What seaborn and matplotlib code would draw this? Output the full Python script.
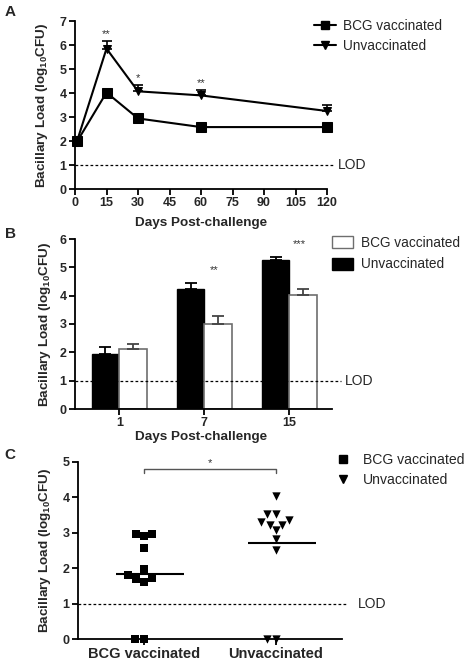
import numpy as np
import pandas as pd
import matplotlib
matplotlib.use("Agg")
import matplotlib.pyplot as plt
import matplotlib.transforms as mtransforms
from matplotlib.lines import Line2D
from matplotlib.patches import Patch
import seaborn as sns

# ---------------- data ----------------
# Panel A
days_a = [1, 15, 30, 60, 120]
bcg_a = [1.98, 4.02, 2.94, 2.58, 2.58]
bcg_a_err = [0.06, 0.10, 0.10, 0.07, 0.12]
unvac_a = [2.00, 5.85, 4.07, 3.90, 3.25]
unvac_a_err = [0.06, 0.30, 0.25, 0.22, 0.23]
stars_a = ["", "**", "*", "**", ""]

# Panel B
days_b = ["1", "7", "15"]
unvac_b = [1.95, 4.25, 5.25]
unvac_b_err = [0.25, 0.18, 0.10]
bcg_b = [2.12, 3.00, 4.02]
bcg_b_err = [0.18, 0.28, 0.23]
stars_b = ["", "**", "***"]

# Panel C
groups_c = ["BCG vaccinated", "Unvaccinated"]
bcg_c = [2.96, 2.90, 2.96, 2.57, 1.99, 1.80, 1.69, 1.60, 1.71, 0.0, 0.0]
unvac_c = [4.03, 3.53, 3.53, 3.37, 3.23, 3.07, 3.23, 3.30, 2.83, 2.52, 0.0, 0.0]

LOD = 1.0
ylabel = r"Bacillary Load (log$_{\mathbf{10}}$CFU)"
xlabel = "Days Post-challenge"

# ---------------- style ----------------
sns.set_style("ticks")
plt.rcParams["font.family"] = ["Liberation Sans", "DejaVu Sans"]
plt.rcParams["mathtext.fontset"] = "custom"
plt.rcParams["mathtext.rm"] = "Liberation Sans"
plt.rcParams["mathtext.bf"] = "Liberation Sans:bold"
plt.rcParams["axes.linewidth"] = 1.3

W, H = 471, 665
fig = plt.figure(figsize=(W / 100, H / 100), dpi=100)


def px_axes(left, right, top, bottom):
    return fig.add_axes([left / W, 1 - bottom / H, (right - left) / W, (bottom - top) / H])


axA = px_axes(75, 327, 21, 189)
axB = px_axes(75, 332, 239, 409)
axC = px_axes(78, 342, 462, 639)

TICK_FS = 9
LABEL_FS = 9.7
LEG_FS = 9.8


def style_axis(ax, ylab_x):
    sns.despine(ax=ax)
    ax.tick_params(axis="both", length=4, width=1.3, labelsize=TICK_FS, pad=2, color="black")
    for lab in ax.get_xticklabels() + ax.get_yticklabels():
        lab.set_fontweight("bold")
    ax.set_ylabel(ylabel, fontsize=LABEL_FS, fontweight="bold")
    ax.yaxis.set_label_coords(ylab_x, 0.5)
    ax.spines["left"].set_color("black")
    ax.spines["bottom"].set_color("black")


def lod(ax, xend, xtext, fs=10):
    ax.axhline(LOD, xmin=0, xmax=xend, ls=(0, (2.2, 1.8)), lw=0.9, color="black",
               clip_on=False, zorder=5)
    tr = mtransforms.blended_transform_factory(ax.transAxes, ax.transData)
    ax.text(xtext, LOD, "LOD", transform=tr, ha="left", va="center", fontsize=fs)


# ---------------- Panel A ----------------
dfA = pd.DataFrame({
    "day": days_a * 2,
    "load": bcg_a + unvac_a,
    "group": ["BCG vaccinated"] * len(days_a) + ["Unvaccinated"] * len(days_a),
})
sns.lineplot(data=dfA, x="day", y="load", hue="group", style="group",
             markers={"BCG vaccinated": "s", "Unvaccinated": "v"}, dashes=False,
             palette={"BCG vaccinated": "black", "Unvaccinated": "black"},
             markersize=6.5, linewidth=1.5, markeredgecolor="black",
             legend=False, ax=axA, zorder=4)
for ln in axA.lines:
    ln.set_clip_on(False)
    if ln.get_marker() == "v":
        ln.set_markersize(6)
axA.errorbar(days_a, unvac_a, yerr=[np.zeros(len(unvac_a)), unvac_a_err], fmt="none",
             ecolor="black", elinewidth=1.2, capsize=3.5, capthick=1.2, clip_on=False)
axA.errorbar(days_a, bcg_a, yerr=[np.zeros(len(bcg_a)), bcg_a_err], fmt="none",
             ecolor="black", elinewidth=1.2, capsize=3.5, capthick=1.2, clip_on=False)
for d, v, e, s in zip(days_a, unvac_a, unvac_a_err, stars_a):
    if s:
        axA.text(d, v + e + 0.08, s, ha="center", va="bottom", fontsize=8, color="#333333")
axA.set_xlim(0, 120)
axA.set_ylim(0, 7)
axA.set_xticks(range(0, 121, 15))
axA.set_yticks(range(0, 8))
axA.set_xlabel(xlabel, fontsize=LABEL_FS, fontweight="bold")
axA.xaxis.set_label_coords(0.5, -0.168)
style_axis(axA, -0.099)
lod(axA, 1.025, 1.045)
legA = [
    Line2D([], [], color="black", marker="s", markersize=6, lw=1.5),
    Line2D([], [], color="black", marker="v", markersize=5.5, lw=1.5),
]
fig.legend(legA, ["BCG vaccinated", "Unvaccinated"], loc="upper left",
           bbox_to_anchor=(314 / W, 1 - 19 / H), frameon=False, fontsize=LEG_FS,
           handlelength=1.6, handletextpad=0.5, labelspacing=0.45, borderpad=0,
           borderaxespad=0)

# ---------------- Panel B ----------------
dfB = pd.DataFrame({
    "day": days_b * 2,
    "load": unvac_b + bcg_b,
    "group": ["Unvaccinated"] * len(days_b) + ["BCG vaccinated"] * len(days_b),
})
sns.barplot(data=dfB, x="day", y="load", hue="group", order=days_b,
            hue_order=["Unvaccinated", "BCG vaccinated"],
            palette={"Unvaccinated": "black", "BCG vaccinated": "white"},
            width=0.65, errorbar=None, legend=False, ax=axB, zorder=2)
unv_bars, bcg_bars = axB.containers[0], axB.containers[1]
for b in unv_bars:
    b.set_edgecolor("black")
    b.set_linewidth(1.0)
for b in bcg_bars:
    b.set_edgecolor("#6e6e6e")
    b.set_linewidth(1.2)
for bars, errs, col in [(unv_bars, unvac_b_err, "black"), (bcg_bars, bcg_b_err, "#444444")]:
    for b, e in zip(bars, errs):
        xc = b.get_x() + b.get_width() / 2
        axB.errorbar([xc], [b.get_height()], yerr=[[0], [e]], fmt="none", ecolor=col,
                     elinewidth=1.3, capsize=4.5, capthick=1.3, zorder=3)
for i, s in enumerate(stars_b):
    if s:
        top = max(unv_bars[i].get_height() + unvac_b_err[i], bcg_bars[i].get_height() + bcg_b_err[i])
        xc = bcg_bars[i].get_x() + bcg_bars[i].get_width() / 2
        axB.text(xc - 0.05, top + 0.3, s, ha="center", va="bottom", fontsize=8, color="#333333")
axB.set_xlim(-0.52, 2.5)
axB.set_ylim(0, 6)
axB.set_yticks(range(0, 7))
axB.set_xlabel(xlabel, fontsize=LABEL_FS, fontweight="bold")
axB.xaxis.set_label_coords(0.49, -0.13)
style_axis(axB, -0.087)
lod(axB, 1.035, 1.05)
legB = [Patch(facecolor="white", edgecolor="#6e6e6e", lw=1.0),
        Patch(facecolor="black", edgecolor="black")]
fig.legend(legB, ["BCG vaccinated", "Unvaccinated"], loc="upper left",
           bbox_to_anchor=(332 / W, 1 - 236 / H), frameon=False, fontsize=LEG_FS,
           handlelength=1.55, handleheight=0.95, handletextpad=0.55, labelspacing=0.55,
           borderpad=0, borderaxespad=0)

# ---------------- Panel C ----------------
dfC = pd.DataFrame({
    "group": [groups_c[0]] * len(bcg_c) + [groups_c[1]] * len(unvac_c),
    "load": bcg_c + unvac_c,
})
sns.swarmplot(data=dfC[dfC["group"] == groups_c[0]], x="group", y="load", order=groups_c,
              marker="s", color="black", size=6, ax=axC, zorder=4)
sns.swarmplot(data=dfC[dfC["group"] == groups_c[1]], x="group", y="load", order=groups_c,
              marker="v", color="black", size=6, ax=axC, zorder=4)
for coll in axC.collections:
    coll.set_clip_on(False)
for i, g in enumerate(groups_c):
    m = dfC.loc[dfC["group"] == g, "load"].mean()
    axC.hlines(m, i - 0.21, i + 0.3, color="black", lw=1.5, zorder=3)
axC.plot([0, 0, 1, 1], [4.68, 4.8, 4.8, 4.68], color="#555555", lw=1.0)
axC.text(0.5, 4.84, "*", ha="center", va="bottom", fontsize=8, color="#333333")
axC.set_xlim(-0.5, 1.5)
axC.set_ylim(0, 5)
axC.set_yticks(range(0, 6))
axC.set_xlabel("")
style_axis(axC, -0.096)
for lab in axC.get_xticklabels():
    lab.set_fontsize(10.5)
lod(axC, 1.02, 1.06)
legC = [Line2D([], [], color="black", marker="s", markersize=5.5, lw=0),
        Line2D([], [], color="black", marker="v", markersize=5.5, lw=0)]
fig.legend(legC, groups_c, loc="upper left",
           bbox_to_anchor=(332 / W, 1 - 453 / H), frameon=False, fontsize=10.1,
           handlelength=1.5, handletextpad=0.7, labelspacing=0.45, borderpad=0,
           borderaxespad=0)

# ---------------- panel letters ----------------
for letter, ypx in [("A", 12), ("B", 234), ("C", 455)]:
    fig.text(10 / W, 1 - ypx / H, letter, fontsize=11, fontweight="bold", ha="center", va="center")

fig.savefig("out.png", dpi=100)
